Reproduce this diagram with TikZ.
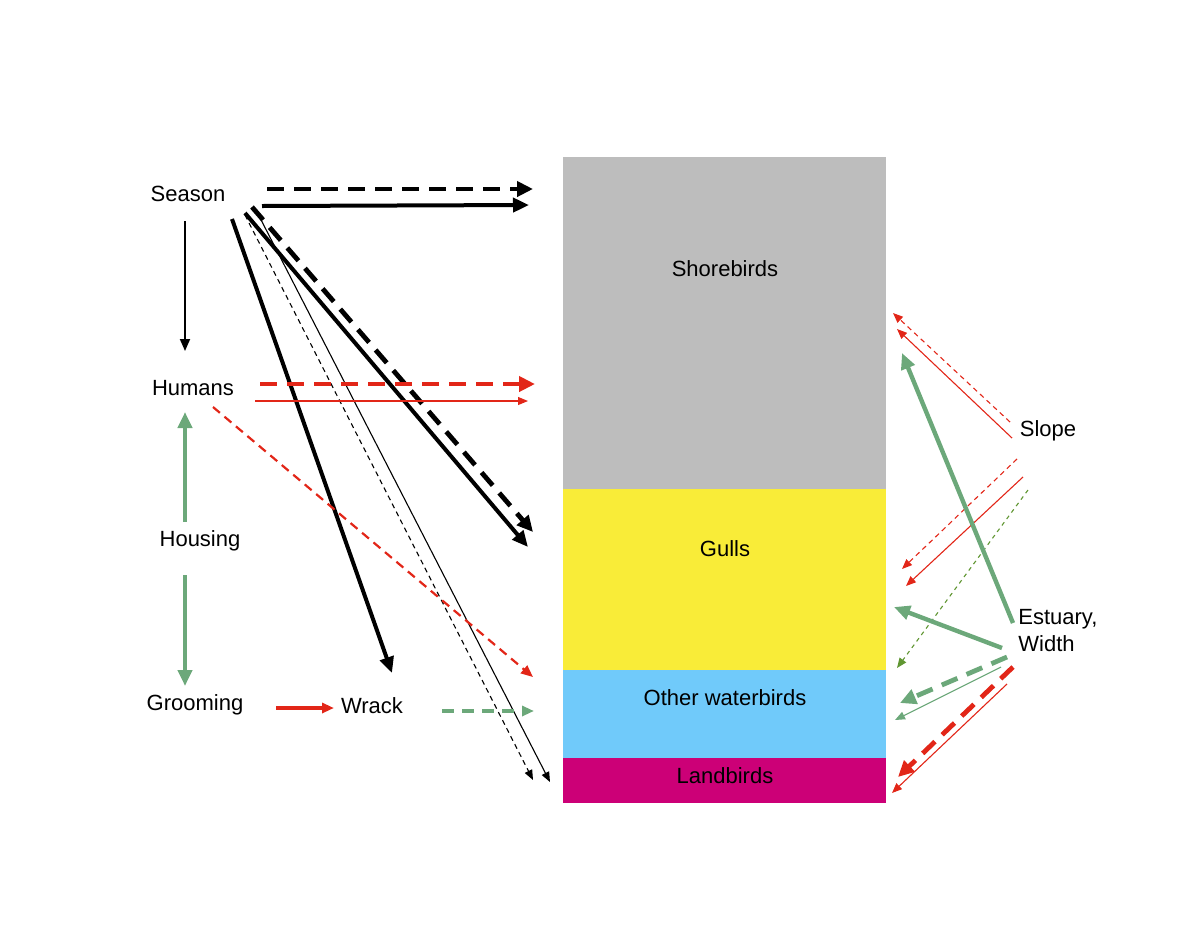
\documentclass[tikz,border=0pt]{standalone}
\usepackage{fontspec}
\setmainfont{Liberation Sans}
\usetikzlibrary{arrows.meta,positioning}

\definecolor{shoregray}{RGB}{189,189,189}
\definecolor{gullyellow}{RGB}{249,236,56}
\definecolor{waterblue}{RGB}{112,202,250}
\definecolor{landpink}{RGB}{204,0,119}
\definecolor{effred}{RGB}{226,38,24}
\definecolor{effgreen}{RGB}{108,168,122}
\definecolor{effolive}{RGB}{96,150,50}

\tikzset{
	lbl/.style={font=\fontsize{11}{13.5}\selectfont, inner sep=0pt, anchor=base},
	big/.style={line width=2pt, -{Triangle[length=8pt,width=7pt]}},
	fat/.style={line width=2.4pt, dash pattern=on 8.5pt off 5pt, -{Triangle[length=8pt,width=7.5pt]}},
	mid/.style={line width=1.1pt, -{Triangle[length=6pt,width=5pt]}},
	middash/.style={mid, dash pattern=on 4.5pt off 3pt},
	slim/.style={line width=0.55pt, -{Triangle[length=5pt,width=4pt]}},
	slimdash/.style={slim, dash pattern=on 2.5pt off 2pt},
}

\begin{document}
\begin{tikzpicture}[x=0.5pt, y=-0.5pt]
	\useasboundingbox (0,0) rectangle (1200,927);

	% bird groups
	\fill[shoregray]  (563,157) rectangle (886,489);
	\fill[gullyellow] (563,489) rectangle (886,670);
	\fill[waterblue]  (563,670) rectangle (886,758);
	\fill[landpink]   (563,758) rectangle (886,803);
	\node[lbl] (shore) at (725,276) {Shorebirds};
	\node[lbl] (gulls) at (725,556) {Gulls};
	\node[lbl] (water) at (725,705) {Other waterbirds};
	\node[lbl] (land)  at (725,783) {Landbirds};

	% drivers
	\node[lbl] (season)   at (188,201) {Season};
	\node[lbl] (humans)   at (193,395) {Humans};
	\node[lbl] (housing)  at (200,546) {Housing};
	\node[lbl] (grooming) at (195,710) {Grooming};
	\node[lbl] (wrack)    at (372,713) {Wrack};
	\node[lbl] (slope)    at (1048,436) {Slope};
	\node[lbl, anchor=north west, align=left] (estuary) at (1018,609) {Estuary,\\Width};

	% arrow ends
	\coordinate (sea1) at (267,189); \coordinate (sea1t) at (533,189);
	\coordinate (sea2) at (262,206); \coordinate (sea2t) at (529,205);
	\coordinate (sea3) at (185,221); \coordinate (sea3t) at (185,351);
	\coordinate (sea4) at (232,219); \coordinate (sea4t) at (392,673);
	\coordinate (sea5) at (252,207); \coordinate (sea5t) at (533,532);
	\coordinate (sea6) at (245,213); \coordinate (sea6t) at (528,547);
	\coordinate (sea7) at (245,215); \coordinate (sea7t) at (533,780);
	\coordinate (sea8) at (257,212); \coordinate (sea8t) at (550,782);
	\coordinate (hum1) at (260,384); \coordinate (hum1t) at (535,384);
	\coordinate (hum2) at (255,401); \coordinate (hum2t) at (528,401);
	\coordinate (hum3) at (213,407); \coordinate (hum3t) at (533,677);
	\coordinate (hou1) at (185,522); \coordinate (hou1t) at (185,412);
	\coordinate (hou2) at (185,575); \coordinate (hou2t) at (185,686);
	\coordinate (gro1) at (276,708); \coordinate (gro1t) at (334,708);
	\coordinate (wra1) at (442,711); \coordinate (wra1t) at (534,711);
	\coordinate (slo1) at (1010,422); \coordinate (slo1t) at (893,313);
	\coordinate (slo2) at (1012,438); \coordinate (slo2t) at (897,329);
	\coordinate (slo3) at (1017,459); \coordinate (slo3t) at (902,569);
	\coordinate (slo4) at (1023,477); \coordinate (slo4t) at (906,586);
	\coordinate (slo5) at (1028,490); \coordinate (slo5t) at (897,668);
	\coordinate (est1) at (1013,623); \coordinate (est1t) at (902,353);
	\coordinate (est2) at (1002,648); \coordinate (est2t) at (894,607);
	\coordinate (est3) at (1007,657); \coordinate (est3t) at (900,703);
	\coordinate (est4) at (1001,667); \coordinate (est4t) at (895,720);
	\coordinate (est5) at (1013,667); \coordinate (est5t) at (898,777);
	\coordinate (est6) at (1007,684); \coordinate (est6t) at (892,793);

	% season
	\draw[fat]  (sea1) -- (sea1t);
	\draw[big]  (sea2) -- (sea2t);
	\draw[mid, line width=0.9pt] (sea3) -- (sea3t);
	\draw[big]  (sea4) -- (sea4t);
	\draw[fat]  (sea5) -- (sea5t);
	\draw[big]  (sea6) -- (sea6t);
	\draw[slimdash] (sea7) -- (sea7t);
	\draw[slim] (sea8) -- (sea8t);

	% humans, housing, grooming, wrack
	\draw[fat, effred]  (hum1) -- (hum1t);
	\draw[slim, effred] (hum2) -- (hum2t);
	\draw[middash, effred] (hum3) -- (hum3t);
	\draw[big, effgreen] (hou1) -- (hou1t);
	\draw[big, effgreen] (hou2) -- (hou2t);
	\draw[mid, line width=1.6pt, effred] (gro1) -- (gro1t);
	\draw[mid, line width=1.6pt, effgreen, dash pattern=on 6pt off 4pt] (wra1) -- (wra1t);

	% slope
	\draw[slimdash, effred] (slo1) -- (slo1t);
	\draw[slim, effred]     (slo2) -- (slo2t);
	\draw[slimdash, effred] (slo3) -- (slo3t);
	\draw[slim, effred]     (slo4) -- (slo4t);
	\draw[slimdash, effolive, dash pattern=on 2pt off 2pt] (slo5) -- (slo5t);

	% estuary, width
	\draw[big, effgreen, line width=2.2pt] (est1) -- (est1t);
	\draw[big, effgreen, line width=2.2pt] (est2) -- (est2t);
	\draw[fat, effgreen] (est3) -- (est3t);
	\draw[slim, effgreen] (est4) -- (est4t);
	\draw[fat, effred]   (est5) -- (est5t);
	\draw[slim, effred]  (est6) -- (est6t);
\end{tikzpicture}
\end{document}
